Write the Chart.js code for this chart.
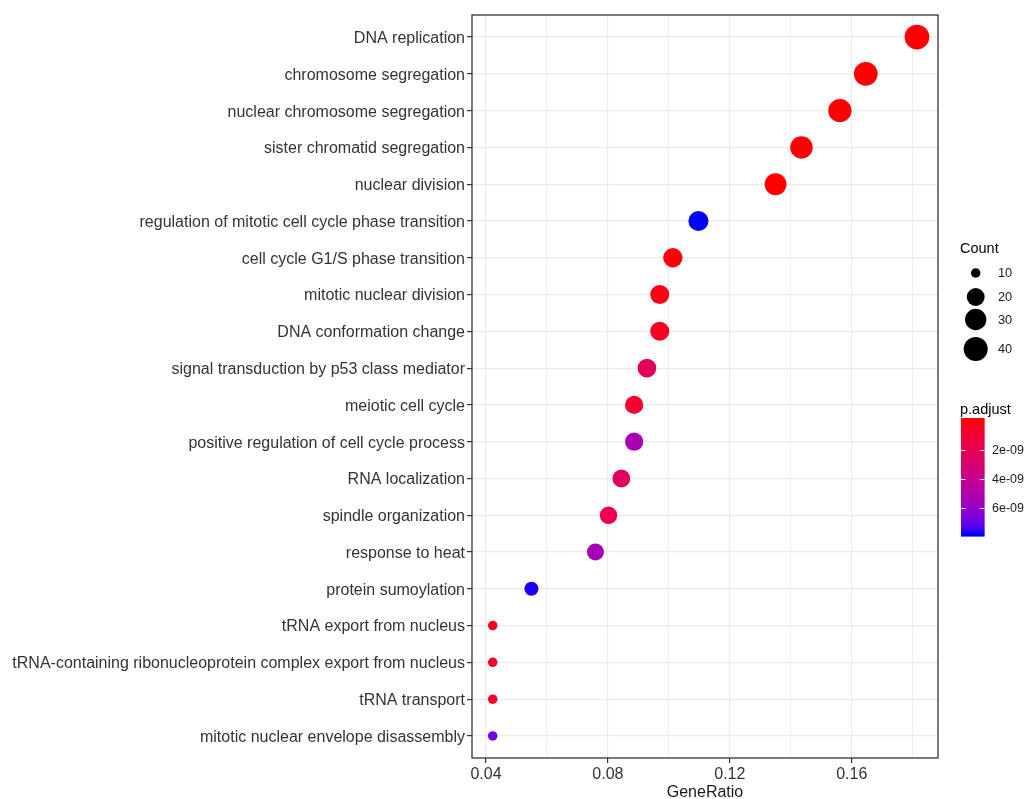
<!DOCTYPE html>
<html>
<head>
<meta charset="utf-8">
<title>GO enrichment dot plot</title>
<script src="https://cdn.jsdelivr.net/npm/chart.js@4/dist/chart.umd.min.js"></script>
<style>
  html, body { margin: 0; padding: 0; background: #ffffff; }
  canvas { display: block; }
</style>
</head>
<body>
<canvas id="chart" width="1028" height="799"></canvas>
<script>
// GO terms, top to bottom
const terms = [
  'DNA replication',
  'chromosome segregation',
  'nuclear chromosome segregation',
  'sister chromatid segregation',
  'nuclear division',
  'regulation of mitotic cell cycle phase transition',
  'cell cycle G1/S phase transition',
  'mitotic nuclear division',
  'DNA conformation change',
  'signal transduction by p53 class mediator',
  'meiotic cell cycle',
  'positive regulation of cell cycle process',
  'RNA localization',
  'spindle organization',
  'response to heat',
  'protein sumoylation',
  'tRNA export from nucleus',
  'tRNA-containing ribonucleoprotein complex export from nucleus',
  'tRNA transport',
  'mitotic nuclear envelope disassembly'
];

// GeneRatio (x position)
const geneRatio = [
  0.1814, 0.1646, 0.1561, 0.1435, 0.1350,
  0.1097, 0.1013, 0.0970, 0.0970, 0.0928,
  0.0886, 0.0886, 0.0844, 0.0802, 0.0759,
  0.0549, 0.0422, 0.0422, 0.0422, 0.0422
];

// gene counts (point size)
const counts = [
  43, 39, 37, 34, 32,
  26, 24, 23, 23, 22,
  21, 21, 20, 19, 18,
  13, 10, 10, 10, 10
];

// adjusted p-values (point colour)
const pAdjust = [
  2.1e-14, 4.5e-13, 1.6e-12, 8.0e-12, 3.1e-11,
  7.7e-9, 9.5e-11, 2.2e-10, 6.0e-10, 2.3e-9,
  9.0e-10, 5.2e-9, 2.4e-9, 1.7e-9, 5.4e-9,
  7.65e-9, 6.5e-10, 6.5e-10, 6.5e-10, 6.7e-9
];

// axis / legend breaks
const xMajorTicks = [0.04, 0.08, 0.12, 0.16];
const xMinorTicks = [0.06, 0.10, 0.14, 0.18];
const countBreaks = [10, 20, 30, 40];
const pBreaks = [2e-9, 4e-9, 6e-9];
const pBreakLabels = ['2e-09', '4e-09', '6e-09'];

const FONT = '"Liberation Sans", Arial, Helvetica, sans-serif';

// ---- size scale (area-style, like scale_size) ----
const cMin = Math.min(...counts), cMax = Math.max(...counts);
function diameterFor(c) {
  const t = Math.max(0, (c - cMin) / (cMax - cMin));
  return 9.5 + 15.2 * Math.sqrt(t);
}

// ---- colour scale: red -> blue interpolated in CIELAB ----
const pMin = Math.min(...pAdjust), pMax = Math.max(...pAdjust);
function toLin(c) { c /= 255; return c <= 0.04045 ? c / 12.92 : Math.pow((c + 0.055) / 1.055, 2.4); }
function fromLin(c) { const v = c <= 0.0031308 ? 12.92 * c : 1.055 * Math.pow(c, 1 / 2.4) - 0.055; return Math.round(Math.min(1, Math.max(0, v)) * 255); }
function rgbToLab([r, g, b]) {
  r = toLin(r); g = toLin(g); b = toLin(b);
  let x = (0.4124 * r + 0.3576 * g + 0.1805 * b) / 0.95047;
  let y = (0.2126 * r + 0.7152 * g + 0.0722 * b);
  let z = (0.0193 * r + 0.1192 * g + 0.9505 * b) / 1.08883;
  const f = t => t > 0.008856 ? Math.cbrt(t) : 7.787 * t + 16 / 116;
  const fx = f(x), fy = f(y), fz = f(z);
  return [116 * fy - 16, 500 * (fx - fy), 200 * (fy - fz)];
}
function labToRgb([L, a, b]) {
  const fy = (L + 16) / 116, fx = fy + a / 500, fz = fy - b / 200;
  const inv = t => t * t * t > 0.008856 ? t * t * t : (t - 16 / 116) / 7.787;
  const x = inv(fx) * 0.95047, y = inv(fy), z = inv(fz) * 1.08883;
  const r = 3.2406 * x - 1.5372 * y - 0.4986 * z;
  const g = -0.9689 * x + 1.8758 * y + 0.0415 * z;
  const bl = 0.0557 * x - 0.2040 * y + 1.0570 * z;
  return [fromLin(r), fromLin(g), fromLin(bl)];
}
const labLow = rgbToLab([255, 0, 0]);
const labHigh = rgbToLab([0, 0, 255]);
function colorAt(t) {
  t = Math.min(1, Math.max(0, t));
  const lab = labLow.map((v, i) => v + (labHigh[i] - v) * t);
  const [r, g, b] = labToRgb(lab);
  return `rgb(${r},${g},${b})`;
}
function colorFor(p) { return colorAt((p - pMin) / (pMax - pMin)); }

const points = terms.map((t, i) => ({ x: geneRatio[i], y: i }));
const xAllTicks = [...xMajorTicks, ...xMinorTicks].sort((a, b) => a - b);
const isMajor = v => xMajorTicks.some(m => Math.abs(m - v) < 1e-9);

// panel border drawn over the points
const panelBorder = {
  id: 'panelBorder',
  afterDatasetsDraw(chart) {
    const { ctx, chartArea: a } = chart;
    ctx.save();
    ctx.strokeStyle = '#333333';
    ctx.lineWidth = 1.3;
    ctx.strokeRect(a.left, a.top, a.right - a.left, a.bottom - a.top);
    ctx.restore();
  }
};

// size legend and colour bar to the right of the panel
const sideLegends = {
  id: 'sideLegends',
  afterDraw(chart) {
    const { ctx, chartArea: a } = chart;
    const x0 = a.right + 22;
    ctx.save();
    ctx.textAlign = 'left';

    // Count legend
    ctx.fillStyle = '#000000';
    ctx.font = `14.5px ${FONT}`;
    ctx.textBaseline = 'alphabetic';
    ctx.fillText('Count', x0, 252.5);
    const keyY = [273, 297, 319.5, 349];
    countBreaks.forEach((c, i) => {
      ctx.beginPath();
      ctx.fillStyle = '#000000';
      ctx.arc(x0 + 15.7, keyY[i], diameterFor(c) / 2, 0, Math.PI * 2);
      ctx.fill();
      ctx.fillStyle = '#1a1a1a';
      ctx.font = `12.8px ${FONT}`;
      ctx.textBaseline = 'middle';
      ctx.fillText(String(c), x0 + 38, keyY[i] + 0.5);
    });

    // p.adjust colour bar
    ctx.fillStyle = '#000000';
    ctx.font = `14.5px ${FONT}`;
    ctx.textBaseline = 'alphabetic';
    ctx.fillText('p.adjust', x0, 413.5);
    const barX = x0 + 1, barW = 23.5, barTop = 418, barBot = 536, pad = 3;
    const steps = 118;
    for (let s = 0; s < steps; s++) {
      const y = barTop + (barBot - barTop) * s / steps;
      const t = ((y + 0.5) - (barTop + pad)) / ((barBot - pad) - (barTop + pad));
      ctx.fillStyle = colorAt(t);
      ctx.fillRect(barX, y, barW, (barBot - barTop) / steps + 0.6);
    }
    const yFor = p => (barTop + pad) + ((p - pMin) / (pMax - pMin)) * ((barBot - pad) - (barTop + pad));
    ctx.strokeStyle = '#ffffff';
    ctx.lineWidth = 1;
    pBreaks.forEach((p, i) => {
      const y = Math.round(yFor(p)) + 0.5;
      ctx.beginPath();
      ctx.moveTo(barX, y); ctx.lineTo(barX + barW / 5, y);
      ctx.moveTo(barX + barW, y); ctx.lineTo(barX + barW - barW / 5, y);
      ctx.stroke();
      ctx.fillStyle = '#1a1a1a';
      ctx.font = `12.5px ${FONT}`;
      ctx.textBaseline = 'middle';
      ctx.fillText(pBreakLabels[i], x0 + 32, y + 0.5);
    });
    ctx.restore();
  }
};

new Chart(document.getElementById('chart'), {
  type: 'scatter',
  data: {
    datasets: [{
      data: points,
      pointRadius: ctx => diameterFor(counts[ctx.dataIndex]) / 2,
      pointHoverRadius: ctx => diameterFor(counts[ctx.dataIndex]) / 2,
      pointBackgroundColor: ctx => colorFor(pAdjust[ctx.dataIndex]),
      pointBorderWidth: 0,
      pointBorderColor: 'rgba(0,0,0,0)'
    }]
  },
  options: {
    responsive: false,
    animation: false,
    events: [],
    layout: { padding: { left: 0, right: 90, top: 15, bottom: 0 } },
    plugins: { legend: { display: false }, tooltip: { enabled: false } },
    scales: {
      x: {
        type: 'linear',
        min: 0.0354,
        max: 0.1883,
        afterBuildTicks: scale => { scale.ticks = xAllTicks.map(v => ({ value: v })); },
        afterFit: scale => { scale.height = 41; },
        ticks: {
          autoSkip: false,
          maxRotation: 0,
          padding: 2,
          color: '#333333',
          font: { family: FONT, size: 16 },
          callback: v => isMajor(v) ? v.toFixed(2) : ''
        },
        grid: {
          color: '#ebebeb',
          lineWidth: ctx => (ctx.tick && isMajor(ctx.tick.value)) ? 1.2 : 0.8,
          tickColor: ctx => (ctx.tick && isMajor(ctx.tick.value)) ? '#333333' : 'rgba(0,0,0,0)',
          tickLength: 5,
          tickWidth: 1.2
        },
        border: { display: false },
        title: {
          display: true,
          text: 'GeneRatio',
          color: '#1a1a1a',
          font: { family: FONT, size: 16, lineHeight: 0.75 },
          padding: { top: 0, bottom: 0 }
        }
      },
      y: {
        type: 'linear',
        reverse: true,
        min: -0.6,
        max: terms.length - 0.4,
        afterBuildTicks: scale => { scale.ticks = terms.map((_, i) => ({ value: i })); },
        afterFit: scale => { scale.width = 472; },
        ticks: {
          autoSkip: false,
          padding: 2,
          labelOffset: 1.5,
          color: '#333333',
          font: { family: FONT, size: 16 },
          callback: v => terms[v]
        },
        grid: {
          color: '#ebebeb',
          lineWidth: 1.2,
          tickColor: '#333333',
          tickLength: 5,
          tickWidth: 1.2
        },
        border: { display: false }
      }
    }
  },
  plugins: [panelBorder, sideLegends]
});
</script>
</body>
</html>
